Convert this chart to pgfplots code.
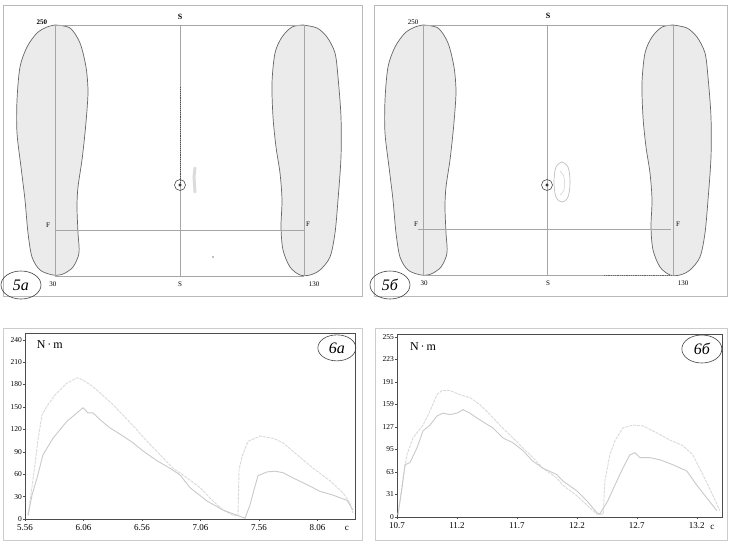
\documentclass[border=0pt]{standalone}
\usepackage{fontspec}
\setmainfont{Liberation Serif}
\usepackage{pgfplots}
\pgfplotsset{compat=1.18}
\usepackage{pgfplotstable}
\usetikzlibrary{shapes.geometric}

% foot outlines, panel coordinates (x right, y down)
\pgfplotstableread{
x y
52 20
67 23
77 38
83 62
85 85
84 105
82 128
79 155
75 182
74 202
75 228
76 248
70 262
60 269
50 270
37 265
29 252
25 228
22 195
18 162
14 128
14 95
17 62
24 42
34 28
44 22
52 20
}\footL
\pgfplotstableread{
x y
300 20
314 23
324 32
332 48
335 72
338 112
338 152
335 195
332 228
327 252
317 265
307 270
297 270
287 262
280 245
278 222
279 195
277 168
273 142
270 112
269 78
272 48
279 32
289 22
300 20
}\footR

% torque curves, fig. 6a
\pgfplotstableread{
t m
5.586 5
5.628 52
5.671 106
5.705 139
5.748 151
5.816 166
5.919 182
6.004 189
6.056 186
6.133 178
6.201 169
6.312 153
6.398 139
6.483 125
6.603 104
6.714 86
6.825 68
6.945 55
7.056 42
7.167 24
7.252 12
7.338 5
7.380 4
7.389 66
7.415 84
7.466 104
7.569 111
7.680 108
7.765 102
7.885 86
8.022 68
8.167 51
8.278 35
8.338 21
8.363 8
}\upA
\pgfplotstableread{
t m
5.586 5
5.620 32
5.663 55
5.714 86
5.799 108
5.919 131
6.004 142
6.056 149
6.098 142
6.141 142
6.201 133
6.286 122
6.398 111
6.483 102
6.569 91
6.688 78
6.799 68
6.885 59
6.970 42
7.116 24
7.252 12
7.372 5
7.440 1
7.483 19
7.517 39
7.551 58
7.628 63
7.697 64
7.765 62
7.850 55
7.970 46
8.081 37
8.192 32
8.312 25
8.363 12
}\loA

% torque curves, fig. 6b
\pgfplotstableread{
t m
10.708 3
10.750 55
10.783 88
10.833 112
10.917 130
10.975 150
11.033 173
11.075 179
11.142 179
11.225 173
11.308 169
11.392 159
11.475 145
11.558 130
11.642 116
11.725 102
11.833 84
11.917 69
12.033 55
12.083 45
12.200 30
12.308 13
12.367 4
12.420 4
12.433 51
12.475 88
12.517 108
12.583 126
12.667 130
12.750 129
12.867 119
12.975 109
13.083 101
13.167 88
13.250 60
13.333 31
13.392 9
}\upB
\pgfplotstableread{
t m
10.708 3
10.742 41
10.767 74
10.808 77
10.867 98
10.917 122
10.975 130
11.033 143
11.083 147
11.142 145
11.200 147
11.250 152
11.308 147
11.367 140
11.433 133
11.500 126
11.583 112
11.667 105
11.750 94
11.833 79
11.917 69
12.033 60
12.083 51
12.200 37
12.283 23
12.367 6
12.390 4
12.458 23
12.533 51
12.583 69
12.642 88
12.683 91
12.725 84
12.808 84
12.892 81
13.000 74
13.117 65
13.200 45
13.283 27
13.367 9
}\loB

\tikzset{
  small/.style={font=\fontsize{7}{8}\selectfont},
  tag/.style={draw=black!75, ellipse, inner sep=0.5pt, line width=0.6pt,
    font=\fontsize{16}{18}\selectfont\itshape},
}
\pgfplotsset{
  toppanel/.style={scale only axis, anchor=south west, height=291pt,
    xmin=0, ymin=0, ymax=291, y dir=reverse, axis lines=box, ticks=none,
    axis line style={gray!55, line width=0.6pt}, clip=false},
  foot/.style={fill=gray!16, draw=black!60, line width=0.7pt, smooth, tension=0.5},
  guide/.style={gray!70, line width=0.6pt},
  torque/.style={scale only axis, anchor=south west, ymin=0, clip=false,
    axis line style={black!70, line width=0.8pt},
    tick align=outside, major tick length=2pt, tick style={black!70},
    xtick pos=left, ytick pos=left,
    xticklabel style={font=\fontsize{9}{10}\selectfont},
    yticklabel style={font=\fontsize{7.5}{8}\selectfont, inner sep=1pt},
    /pgf/number format/assume math mode=true},
  upper/.style={gray!30, line width=0.9pt, dash pattern=on 3pt off 1pt},
  lower/.style={gray!42, line width=0.9pt},
}

\begin{document}
\begin{tikzpicture}
\path[use as bounding box] (0,0) rectangle (740pt,547pt);

% ---- 5a ----
\begin{axis}[toppanel, at={(3pt,251pt)}, width=359pt, xmax=359]
  \addplot[foot] table {\footL};
  \addplot[foot] table {\footR};
  \addplot[guide] coordinates {(52,20) (301,20)};
  \addplot[guide] coordinates {(52,271) (301,271)};
  \addplot[guide] coordinates {(52,20) (52,271)};
  \addplot[guide] coordinates {(301,20) (301,271)};
  \addplot[guide] coordinates {(177,20) (177,271)};
  \addplot[guide] coordinates {(52,225) (301,225)};
  \addplot[black!70, densely dotted, line width=0.9pt] coordinates {(177,82) (177,178)};
  \addplot[only marks, mark=o, mark size=5.5pt, black!70, mark options={line width=0.6pt}] coordinates {(177,180)};
  \addplot[only marks, mark=*, mark size=1.3pt, black!80] coordinates {(177,180)};
  \addplot[gray!28, line width=3pt, line cap=round] coordinates {(192,163) (191,172) (192,187)};
  \addplot[only marks, mark=*, mark size=0.8pt, gray!60] coordinates {(210,252)};
  \node[font=\fontsize{7}{8}\selectfont\bfseries] at (axis cs:39,17) {250};
  \node[font=\fontsize{8}{9}\selectfont\bfseries] at (axis cs:177,12) {S};
  \node[small] at (axis cs:177,279) {S};
  \node[small] at (axis cs:45,220) {F};
  \node[small] at (axis cs:305,219) {F};
  \node[small] at (axis cs:50,279) {30};
  \node[small] at (axis cs:311,279) {130};
  \node[tag, minimum width=40pt, minimum height=28pt] at (axis cs:18,280) {5а};
\end{axis}

% ---- 5б ----
\begin{axis}[toppanel, at={(374pt,251pt)}, width=353pt, xmax=353]
  \addplot[foot] table[x expr=\thisrow{x}-3] {\footL};
  \addplot[foot] table[x expr=\thisrow{x}-1] {\footR};
  \addplot[guide] coordinates {(49,20) (299,20)};
  \addplot[guide] coordinates {(49,270) (299,270)};
  \addplot[guide] coordinates {(49,20) (49,270)};
  \addplot[guide] coordinates {(299,20) (299,270)};
  \addplot[guide] coordinates {(173,20) (173,270)};
  \addplot[guide] coordinates {(44,224) (297,224)};
  \addplot[black!60, densely dotted, line width=0.8pt] coordinates {(230,270) (297,270)};
  \addplot[only marks, mark=o, mark size=5.5pt, black!70, mark options={line width=0.6pt}] coordinates {(173,180)};
  \addplot[only marks, mark=*, mark size=1.3pt, black!80] coordinates {(173,180)};
  \addplot[gray!50, line width=0.7pt, smooth, tension=0.6] coordinates {(188,157) (194,162) (196,177) (194,192) (188,197) (182,192) (180,177) (182,162) (188,157)};
  \addplot[gray!40, line width=0.5pt, smooth] coordinates {(186,166) (190,172) (190,185) (186,190)};
  \node[small] at (axis cs:39,17) {250};
  \node[font=\fontsize{8}{9}\selectfont\bfseries] at (axis cs:174,11) {S};
  \node[small] at (axis cs:174,278) {S};
  \node[small] at (axis cs:42,219) {F};
  \node[small] at (axis cs:304,219) {F};
  \node[small] at (axis cs:50,278) {30};
  \node[small] at (axis cs:309,278) {130};
  \node[tag, minimum width=40pt, minimum height=28pt] at (axis cs:16,280) {5б};
\end{axis}

% ---- frames of the lower panels ----
\draw[gray!40, line width=0.6pt] (3pt,7pt) rectangle (362pt,219pt);
\draw[gray!40, line width=0.6pt] (375pt,7pt) rectangle (727pt,219pt);

% ---- 6a ----
\begin{axis}[torque, at={(25pt,28pt)}, width=330pt, height=186pt,
    xmin=5.56, xmax=8.38, ymax=249,
    xtick={5.56,6.06,6.56,7.06,7.56,8.06},
    xticklabels={5.56,6.06,6.56,7.06,7.56,8.06},
    ytick={0,30,60,90,120,150,180,210,240},
    yticklabels={0,30,60,90,120,150,180,210,240}]
  \addplot[upper] table {\upA};
  \addplot[lower] table {\loA};
  \node[font=\fontsize{12}{14}\selectfont] at (rel axis cs:0.075,0.94) {N\,·\,m};
  \node[tag, minimum width=38pt, minimum height=26pt] at (rel axis cs:0.945,0.92) {6а};
  \node[anchor=north, font=\fontsize{9}{10}\selectfont] at (axis cs:8.31,-5) {с};
\end{axis}

% ---- 6б ----
\begin{axis}[torque, at={(397pt,30pt)}, width=325pt, height=183pt,
    xmin=10.7, xmax=13.41, ymax=259,
    xtick={10.7,11.2,11.7,12.2,12.7,13.2},
    xticklabels={10.7,11.2,11.7,12.2,12.7,13.2},
    ytick={0,31.875,63.75,95.625,127.5,159.375,191.25,223.125,255},
    yticklabels={0,31,63,95,127,159,191,223,255}]
  \addplot[upper] table {\upB};
  \addplot[lower] table {\loB};
  \node[font=\fontsize{12}{14}\selectfont] at (rel axis cs:0.08,0.934) {N\,·\,m};
  \node[tag, minimum width=40pt, minimum height=28pt] at (rel axis cs:0.938,0.918) {6б};
  \node[anchor=north, font=\fontsize{9}{10}\selectfont] at (axis cs:13.33,-6) {с};
\end{axis}
\end{tikzpicture}
\end{document}
